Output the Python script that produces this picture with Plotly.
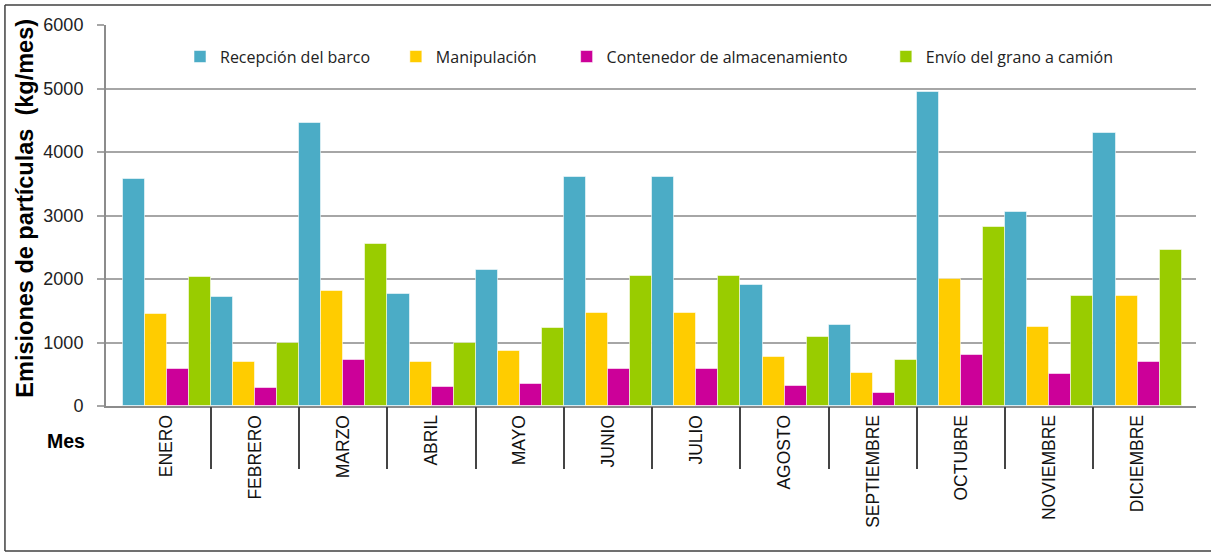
import plotly.graph_objects as go

meses = ["ENERO", "FEBRERO", "MARZO", "ABRIL", "MAYO", "JUNIO", "JULIO",
         "AGOSTO", "SEPTIEMBRE", "OCTUBRE", "NOVIEMBRE", "DICIEMBRE"]
recepcion = [3580, 1710, 4450, 1760, 2140, 3610, 3610, 1900, 1270, 4940, 3050, 4300]
manipulacion = [1450, 700, 1810, 700, 860, 1470, 1470, 770, 520, 2000, 1240, 1740]
contenedor = [590, 280, 720, 300, 340, 590, 590, 320, 200, 810, 500, 700]
envio = [2030, 990, 2550, 990, 1230, 2050, 2050, 1080, 720, 2820, 1740, 2460]
y_ticks = [0, 1000, 2000, 3000, 4000, 5000, 6000]

NB = "\u00a0"
series = [
    ("Recepción del barco", recepcion, "#4BACC6", 5),
    ("Manipulación", manipulacion, "#FFCC00", 6),
    ("Contenedor de almacenamiento", contenedor, "#CC0099", 8),
    ("Envío del grano a camión", envio, "#99CC00", 0),
]

idx = list(range(len(meses)))
boundaries = [i + 0.5 for i in idx[:-1]]

fig = go.Figure()
for name, vals, col, pad in series:
    fig.add_trace(go.Bar(
        x=idx, y=vals, name=name + NB * pad,
        marker=dict(color=col, line=dict(color="rgba(255,255,255,0.55)", width=1)),
    ))

# invisible trace to activate secondary x axis for boundary tick marks
fig.add_trace(go.Scatter(x=[boundaries[0]], y=[0], xaxis="x2", mode="markers",
                         marker=dict(opacity=0), showlegend=False, hoverinfo="skip"))

xr = [-0.689, 11.662]
frame = dict(color="#404040", width=1.5)
fx0, fx1, fy0, fy1 = -0.0927, 1.0138, -0.3806, 1.0525
fig.update_layout(
    width=1213, height=553,
    margin=dict(l=106, r=17, t=25, b=147),
    paper_bgcolor="white", plot_bgcolor="white",
    barmode="group", bargap=0, bargroupgap=0,
    font=dict(family="Liberation Sans, Arial, sans-serif", color="#222"),
    xaxis=dict(
        range=xr, tickmode="array", tickvals=idx, ticktext=meses,
        tickangle=-90, ticks="", showgrid=False, zeroline=False,
        showline=True, linecolor="#8c8c8c", linewidth=2,
        tickfont=dict(size=17.5, color="#111", family="Liberation Sans, Arial, sans-serif"),
    ),
    xaxis2=dict(
        overlaying="x", anchor="y", side="bottom", range=xr,
        tickmode="array", tickvals=boundaries, ticktext=[""] * len(boundaries),
        ticks="outside", ticklen=62, tickwidth=1.5, tickcolor="#444",
        showgrid=False, zeroline=False, showline=False, showticklabels=False,
    ),
    yaxis=dict(
        range=[0, 6000], tickmode="array", tickvals=y_ticks,
        ticktext=[str(v) for v in y_ticks],
        showgrid=True, gridcolor="#a6a6a6", gridwidth=2,
        ticks="outside", ticklen=7, tickcolor="#a6a6a6", tickwidth=2,
        showline=True, linecolor="#8c8c8c", linewidth=2, zeroline=False,
        ticklabelstandoff=10,
        tickfont=dict(size=18, color="#222", family="Liberation Sans, Arial, sans-serif"),
    ),
    legend=dict(
        orientation="h", x=0.0679, xanchor="left", y=0.917, yanchor="middle",
        font=dict(size=16, family="Open Sans, sans-serif", color="#222"),
        bgcolor="rgba(0,0,0,0)", itemclick=False,
    ),
    showlegend=True,
    annotations=[
        dict(text="Emisiones de partículas\u00a0\u00a0(kg/mes)", textangle=-90,
             xref="paper", yref="paper", x=-0.0743, y=0.518,
             xanchor="center", yanchor="middle", showarrow=False,
             font=dict(size=23.5, color="#000", family="Liberation Sans, Arial, sans-serif",
                       weight="bold")),
        dict(text="<b>Mes</b>", xref="paper", yref="paper", x=-0.0174, y=-0.0906,
             xanchor="right", yanchor="middle", showarrow=False,
             font=dict(size=19.5, color="#000", family="Liberation Sans, Arial, sans-serif")),
    ],
    shapes=[
        dict(type="line", xref="paper", yref="paper", x0=fx0, x1=fx1, y0=fy1, y1=fy1,
             line=frame, layer="below"),
        dict(type="line", xref="paper", yref="paper", x0=fx0, x1=fx1, y0=fy0, y1=fy0,
             line=frame, layer="below"),
        dict(type="line", xref="paper", yref="paper", x0=fx0, x1=fx0, y0=fy0, y1=fy1,
             line=frame, layer="below"),
    ],
)

fig.write_html("out.html", config={"displayModeBar": False},
               post_script="document.body.style.margin='0';document.body.style.overflow='hidden';")
